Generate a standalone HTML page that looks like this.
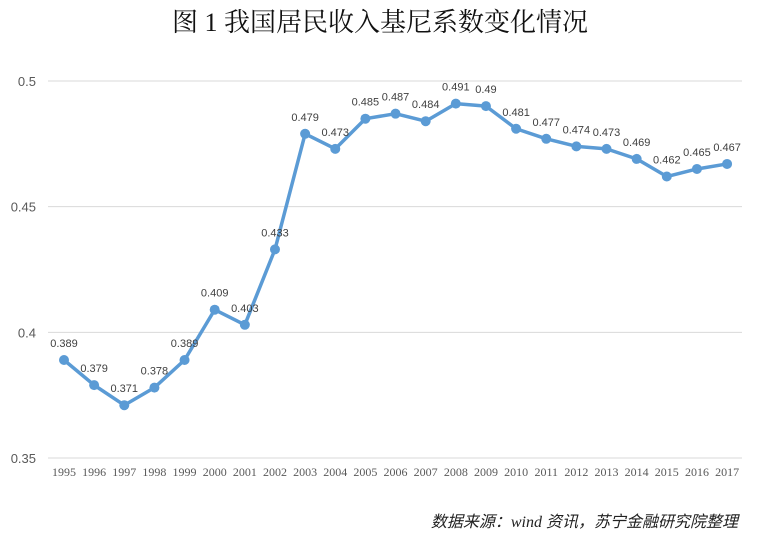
<!DOCTYPE html>
<html><head><meta charset="utf-8"><style>
body{margin:0;background:#fff;width:760px;height:535px;overflow:hidden}
</style></head><body>
<svg id="s" width="760" height="535" xmlns="http://www.w3.org/2000/svg">
<text x="380" y="31" text-anchor="middle" font-family="'Liberation Serif','Noto Serif CJK SC',serif" font-size="26" fill="#111">图 1  我国居民收入基尼系数变化情况</text>
<text x="738" y="527" text-anchor="end" font-family="'Liberation Serif','Noto Sans CJK SC',serif" font-style="italic" font-size="16" fill="#222">数据来源：wind 资讯，苏宁金融研究院整理</text>
</svg>
<script>
var s=document.getElementById('s'),ns='http://www.w3.org/2000/svg';
function el(t,a,txt){var e=document.createElementNS(ns,t);for(var k in a)e.setAttribute(k,a[k]);if(txt!=null)e.textContent=txt;s.appendChild(e);return e;}
var v=[.389,.379,.371,.378,.389,.409,.403,.433,.479,.473,.485,.487,.484,.491,.49,.481,.477,.474,.473,.469,.462,.465,.467];
function Y(x){return 458-(x-0.35)*2513.3;}
function X(i){return 64+i*30.14;}
[0.5,0.45,0.4,0.35].forEach(function(g){var y=Y(g);el('line',{x1:48,x2:742,y1:y,y2:y,stroke:'#d9d9d9','stroke-width':1});
el('text',{x:36,y:y+5,'text-anchor':'end','font-family':'Liberation Sans,sans-serif','font-size':13,fill:'#595959'},String(g));});
var p=v.map(function(x,i){return X(i)+','+Y(x)}).join(' ');
el('polyline',{points:p,fill:'none',stroke:'#5b9bd5','stroke-width':3.5,'stroke-linejoin':'round'});
v.map(function(x,i){el('circle',{cx:X(i),cy:Y(x),r:5,fill:'#5b9bd5'});
el('text',{x:X(i),y:Y(x)-13,'text-anchor':'middle','font-family':'Liberation Sans,sans-serif','font-size':11,fill:'#404040'},String(x));
el('text',{x:X(i),y:476,'text-anchor':'middle','font-family':'Liberation Serif,serif','font-size':12,fill:'#595959'},String(1995+i));});
</script>
</body></html>
